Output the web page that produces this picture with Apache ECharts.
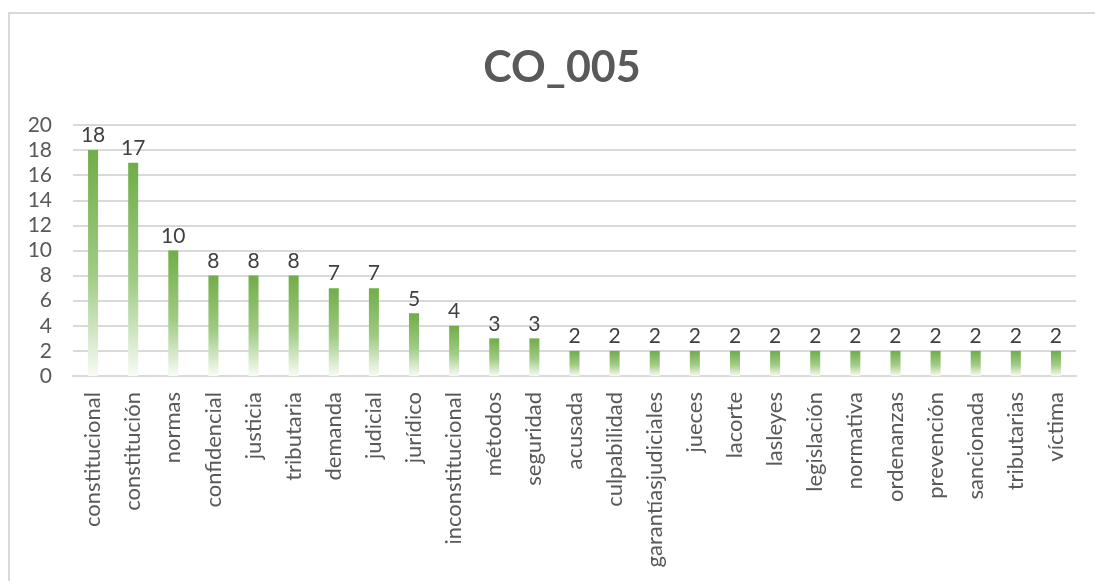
<!DOCTYPE html>
<html lang="es">
<head>
<meta charset="UTF-8" />
<script src="https://cdn.jsdelivr.net/npm/echarts@6/dist/echarts.min.js"></script>
<style>
  body{margin:0;padding:0;background:#fff;}
  #chart{width:1095px;height:581px;}
</style>
</head>
<body>
<div id="chart"></div>
<script>
var categories = ['constitucional','constitución','normas','confidencial','justicia','tributaria','demanda','judicial','jurídico','inconstitucional','métodos','seguridad','acusada','culpabilidad','garantíasjudiciales','jueces','lacorte','lasleyes','legislación','normativa','ordenanzas','prevención','sancionada','tributarias','víctima'];
var values = [18,17,10,8,8,8,7,7,5,4,3,3,2,2,2,2,2,2,2,2,2,2,2,2,2];
var yTicks = [0,2,4,6,8,10,12,14,16,18,20];

var chart = echarts.init(document.getElementById('chart'));
var option = {
  animation: false,
  textStyle: {fontFamily: 'Lato'},
  title: {
    text: 'CO_005',
    left: 557,
    textAlign: 'center',
    top: 42,
    textStyle: {fontSize: 43, fontWeight: 'bold', color: '#595959', fontFamily: 'Lato'}
  },
  graphic: [{
    type: 'rect',
    shape: {x: 9, y: 13, width: 1100, height: 600},
    style: {fill: 'none', stroke: '#d9d9d9', lineWidth: 2},
    silent: true
  }],
  grid: {left: 73, right: 19, top: 125, bottom: 205},
  xAxis: {
    type: 'category',
    data: categories,
    axisLine: {lineStyle: {color: '#d9d9d9', width: 2}},
    axisTick: {show: false},
    axisLabel: {rotate: 90, interval: 0, fontSize: 22, color: '#595959', margin: 16}
  },
  yAxis: {
    type: 'value',
    min: yTicks[0],
    max: yTicks[yTicks.length - 1],
    interval: 2,
    axisLine: {show: false},
    axisTick: {show: false},
    axisLabel: {fontSize: 21, color: '#595959', margin: 21},
    splitLine: {lineStyle: {color: '#d9d9d9', width: 2}}
  },
  series: [{
    type: 'bar',
    data: values,
    barWidth: 10,
    itemStyle: {
      color: new echarts.graphic.LinearGradient(0, 0, 0, 1, [
        {offset: 0, color: '#70ad47'},
        {offset: 0.55, color: '#a0cb85'},
        {offset: 1, color: '#f7fbf4'}
      ])
    },
    label: {show: true, position: 'top', distance: 4, fontSize: 21, color: '#404040'}
  }]
};
chart.setOption(option);
</script>
</body>
</html>
